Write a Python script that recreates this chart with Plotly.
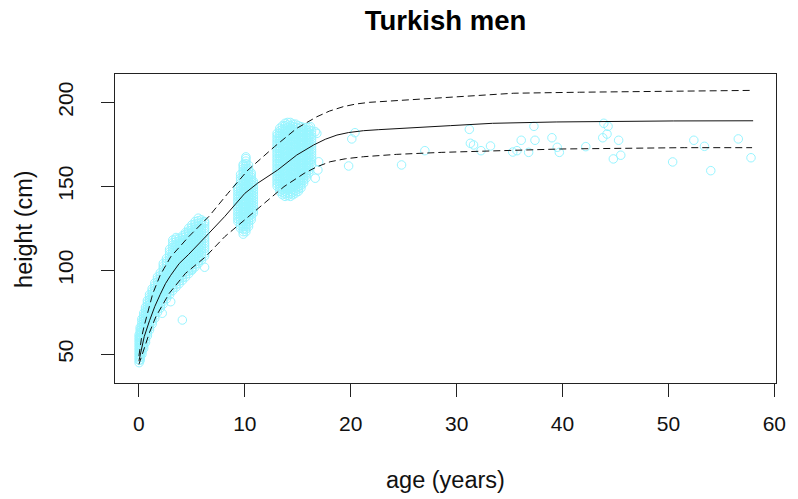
import plotly.graph_objects as go

# ---- observed heights, grouped by age (years) -> heights (cm) ----
young_cols = [
    (0.02, [45, 46.5, 48, 49.5, 51, 52.5, 54, 55.5, 57, 58.5, 60, 61.5]),
    (0.12, [46.5, 48, 49.5, 51, 52.5, 54, 55.5, 57, 58.5, 60, 61.5, 63, 64.5, 66]),
    (0.28, [50, 51.5, 53, 54.5, 56, 57.5, 59, 60.5, 62, 63.5, 65, 66.5, 68, 69.5, 71]),
    (0.45, [53.5, 55, 56.5, 58, 59.5, 61, 62.5, 64, 65.5, 67, 68.5, 70, 71.5, 73, 74.5]),
    (0.62, [57, 58.5, 60, 61.5, 63, 64.5, 66, 67.5, 69, 70.5, 72, 73.5, 75, 76.5, 78]),
    (0.8, [61, 62.5, 64, 65.5, 67, 68.5, 70, 71.5, 73, 74.5, 76, 77.5, 79, 80.5, 82]),
    (1.0, [64.5, 66, 67.5, 69, 70.5, 72, 73.5, 75, 76.5, 78, 79.5, 81, 82.5, 84, 85.5]),
    (1.25, [68, 69.5, 71, 72.5, 74, 75.5, 77, 78.5, 80, 81.5, 83, 84.5, 86, 87.5, 89]),
    (1.5, [71.5, 73, 74.5, 76, 77.5, 79, 80.5, 82, 83.5, 85, 86.5, 88, 89.5, 91, 92.5]),
    (1.75, [75, 76.5, 78, 79.5, 81, 82.5, 84, 85.5, 87, 88.5, 90, 91.5, 93, 94.5, 96]),
    (2.02, [77.5, 79, 80.5, 82, 83.5, 85, 86.5, 88, 89.5, 91, 92.5, 94, 95.5, 97, 98.5]),
    (2.3, [80, 81.5, 83, 84.5, 86, 87.5, 89, 90.5, 92, 93.5, 95, 96.5, 98, 99.5, 101, 102.5, 104]),
    (2.6, [83, 84.5, 86, 87.5, 89, 90.5, 92, 93.5, 95, 96.5, 98, 99.5, 101, 102.5, 104, 105.5, 107]),
    (2.9, [85.5, 87, 88.5, 90, 91.5, 93, 94.5, 96, 97.5, 99, 100.5, 102, 103.5, 105, 106.5,
           108, 109.5, 111, 112.5]),
    (3.2, [88, 89.5, 91, 92.5, 94, 95.5, 97, 98.5, 100, 101.5, 103, 104.5, 106, 107.5, 109,
           110.5, 112, 113.5, 115, 116.5, 118]),
    (3.5, [90, 91.5, 93, 94.5, 96, 97.5, 99, 100.5, 102, 103.5, 105, 106.5, 108, 109.5, 111,
           112.5, 114, 115.5, 117, 118.5, 119.5]),
    (3.8, [92, 93.5, 95, 96.5, 98, 99.5, 101, 102.5, 104, 105.5, 107, 108.5, 110, 111.5, 113,
           114.5, 116, 117.5, 119]),
    (4.1, [94, 95.5, 97, 98.5, 100, 101.5, 103, 104.5, 106, 107.5, 109, 110.5, 112, 113.5, 115,
           116.5, 118, 119.5, 120.5]),
    (4.4, [96, 97.5, 99, 100.5, 102, 103.5, 105, 106.5, 108, 109.5, 111, 112.5, 114, 115.5, 117,
           118.5, 120, 121.5, 122.5]),
    (4.7, [98, 99.5, 101, 102.5, 104, 105.5, 107, 108.5, 110, 111.5, 113, 114.5, 116, 117.5, 119,
           120.5, 122, 123.5, 125]),
    (5.0, [100, 101.5, 103, 104.5, 106, 107.5, 109, 110.5, 112, 113.5, 115, 116.5, 118, 119.5,
           121, 122.5, 124, 125.5, 127]),
    (5.3, [102, 103.5, 105, 106.5, 108, 109.5, 111, 112.5, 114, 115.5, 117, 118.5, 120, 121.5,
           123, 124.5, 126, 127.5, 129]),
    (5.6, [104, 105.5, 107, 108.5, 110, 111.5, 113, 114.5, 116, 117.5, 119, 120.5, 122, 123.5,
           125, 126.5, 128, 129.5, 131]),
    (5.9, [106, 107.5, 109, 110.5, 112, 113.5, 115, 116.5, 118, 119.5, 121, 122.5, 124, 125.5,
           127, 128.5, 130]),
    (6.2, [108.5, 110, 111.5, 113, 114.5, 116, 117.5, 119, 120.5, 122, 123.5, 125, 126.5, 128, 129]),
]

child_cols = [
    (9.35, [129, 130.5, 132, 133.5, 135, 136.5, 138, 139.5, 141, 142.5, 144, 145.5, 147, 148.5, 149.5]),
    (9.6, [125, 126.5, 128, 129.5, 131, 132.5, 134, 135.5, 137, 138.5, 140, 141.5, 143, 144.5, 146,
           147.5, 149, 150.5, 152, 153.5, 155, 157]),
    (9.85, [121.5, 123, 124.5, 126, 127.5, 129, 130.5, 132, 133.5, 135, 136.5, 138, 139.5, 141,
            142.5, 144, 145.5, 147, 148.5, 150, 151.5, 153, 154.5, 156, 157.5, 159, 160.5, 162, 163]),
    (10.1, [123, 124.5, 126, 127.5, 129, 130.5, 132, 133.5, 135, 136.5, 138, 139.5, 141, 142.5, 144,
            145.5, 147, 148.5, 150, 151.5, 153, 154.5, 156, 157.5, 159, 160.5, 162, 163.5, 165,
            166.5, 167.5]),
    (10.35, [126, 127.5, 129, 130.5, 132, 133.5, 135, 136.5, 138, 139.5, 141, 142.5, 144, 145.5,
             147, 148.5, 150, 151.5, 153, 154.5, 156, 157.5, 159, 160.5, 162.5]),
    (10.6, [130, 131.5, 133, 134.5, 136, 137.5, 139, 140.5, 142, 143.5, 145, 146.5, 148, 149.5,
            151, 152.5, 154, 155.5, 157, 158]),
    (10.8, [134, 135.5, 137, 138.5, 140, 141.5, 143, 144.5, 146, 147.5, 149, 150.5, 152, 153]),
]

teen_cols = [
    (13.05, [150, 151.5, 153, 154.5, 156, 157.5, 159, 160.5, 162, 163.5, 165, 166.5, 168, 169.5,
             171, 172.5, 174, 175.5, 177, 178.5, 180, 181.5]),
    (13.3, [147, 148.5, 150, 151.5, 153, 154.5, 156, 157.5, 159, 160.5, 162, 163.5, 165, 166.5,
            168, 169.5, 171, 172.5, 174, 175.5, 177, 178.5, 180, 181.5, 183, 184.5]),
    (13.55, [145, 146.5, 148, 149.5, 151, 152.5, 154, 155.5, 157, 158.5, 160, 161.5, 163, 164.5,
             166, 167.5, 169, 170.5, 172, 173.5, 175, 176.5, 178, 179.5, 181, 182.5, 184, 186]),
    (13.8, [144, 145.5, 147, 148.5, 150, 151.5, 153, 154.5, 156, 157.5, 159, 160.5, 162, 163.5,
            165, 166.5, 168, 169.5, 171, 172.5, 174, 175.5, 177, 178.5, 180, 181.5, 183, 184.5,
            186, 187.5]),
    (14.05, [144.5, 146, 147.5, 149, 150.5, 152, 153.5, 155, 156.5, 158, 159.5, 161, 162.5, 164,
             165.5, 167, 168.5, 170, 171.5, 173, 174.5, 176, 177.5, 179, 180.5, 182, 183.5, 185,
             186.5, 188]),
    (14.3, [144, 145.5, 147, 148.5, 150, 151.5, 153, 154.5, 156, 157.5, 159, 160.5, 162, 163.5,
            165, 166.5, 168, 169.5, 171, 172.5, 174, 175.5, 177, 178.5, 180, 181.5, 183, 184.5,
            186, 188]),
    (14.55, [145, 146.5, 148, 149.5, 151, 152.5, 154, 155.5, 157, 158.5, 160, 161.5, 163, 164.5,
             166, 167.5, 169, 170.5, 172, 173.5, 175, 176.5, 178, 179.5, 181, 182.5, 184, 185.5, 187]),
    (14.8, [146, 147.5, 149, 150.5, 152, 153.5, 155, 156.5, 158, 159.5, 161, 162.5, 164, 165.5,
            167, 168.5, 170, 171.5, 173, 174.5, 176, 177.5, 179, 180.5, 182, 183.5, 185, 187]),
    (15.05, [147, 148.5, 150, 151.5, 153, 154.5, 156, 157.5, 159, 160.5, 162, 163.5, 165, 166.5,
             168, 169.5, 171, 172.5, 174, 175.5, 177, 178.5, 180, 181.5, 183, 184.5, 186]),
    (15.3, [149, 150.5, 152, 153.5, 155, 156.5, 158, 159.5, 161, 162.5, 164, 165.5, 167, 168.5,
            170, 171.5, 173, 174.5, 176, 177.5, 179, 180.5, 182, 183.5, 185.5]),
    (15.55, [152, 153.5, 155, 156.5, 158, 159.5, 161, 162.5, 164, 165.5, 167, 168.5, 170, 171.5,
             173, 174.5, 176, 177.5, 179, 180.5, 182, 183.5, 185]),
    (15.8, [155, 156.5, 158, 159.5, 161, 162.5, 164, 165.5, 167, 168.5, 170, 171.5, 173, 174.5,
            176, 177.5, 179, 180.5, 182, 183.5, 185]),
    (16.05, [158, 159.5, 161, 162.5, 164, 165.5, 167, 168.5, 170, 171.5, 173, 174.5, 176, 177.5,
             179, 180.5, 182, 183.5, 185]),
    (16.3, [163, 164.5, 166, 167.5, 169, 170.5, 172, 173.5, 175, 176.5, 178, 179.5, 181, 183]),
]

# isolated observations
loose_age = [2.2, 3.0, 4.1, 5.0, 6.2, 16.2, 16.65, 16.8, 16.97, 16.65, 16.9,
             19.8, 20.1, 20.4, 24.8, 27.0, 31.2, 31.3, 31.6, 32.3, 33.2, 35.3,
             35.7, 36.1, 36.8, 37.3, 37.4, 39.0, 39.5, 39.7, 42.2, 43.8, 43.9,
             44.2, 44.3, 45.3, 44.8, 45.5, 50.4, 52.4, 53.4, 54.0, 56.6, 57.8]
loose_height = [74.4, 81.3, 70.4, 100.6, 101.8, 185.5, 182.5, 181.5, 164.6, 154.8, 159.7,
                162.1, 178.2, 181.9, 162.7, 171.2, 183.9, 175.6, 174.6, 171.2, 174.0, 170.4,
                171.2, 177.4, 170.2, 185.7, 177.4, 178.9, 173.2, 170.2, 173.6, 178.9, 187.5,
                181.1, 185.7, 177.4, 166.3, 168.5, 164.5, 177.4, 173.8, 159.3, 178.2, 167.0]

# ---- fitted centile curves ----
med_age = [0.0, 0.25, 0.5, 1.0, 1.5, 2.0, 2.5, 3.0, 3.8, 4.7, 5.5, 6.6, 8.1, 10.0,
           11.2, 13.1, 14.9, 16.5, 17.6, 18.7, 19.8, 21.2, 22.6, 24.3, 26.4, 29.4,
           33.4, 39.4, 50.5, 58.0]
med_height = [46, 54, 60.5, 70, 78.5, 85.5, 92, 97, 104, 109.5, 115, 122, 132, 145.8,
              151.8, 159.7, 168.6, 174.6, 178.0, 180.5, 182.0, 183.1, 183.7, 184.2, 184.9,
              186.1, 187.5, 188.3, 188.9, 189.0]

upr_age = [0.0, 0.25, 0.5, 1.0, 1.3, 2.0, 3.0, 4.7, 6.6, 8.4, 10.3, 12.8, 14.9, 16.8,
           18.0, 19.3, 20.5, 21.8, 24.3, 26.5, 31.1, 35.4, 41.6, 53.4, 58.0]
upr_height = [49, 60, 67, 79, 86, 97, 108, 120, 132, 145.8, 159.7, 173.6, 184.5, 191.4,
              194.8, 197.4, 199.0, 200, 201, 202, 203.9, 205.4, 206, 206.7, 207.1]

lwr_age = [0.0, 0.53, 1.0, 1.6, 2.86, 4.4, 6.3, 8.1, 10.0, 11.85, 13.7, 15.6, 16.8,
           18.05, 19.5, 21.2, 24.3, 28.6, 35.4, 39.8, 51.5, 57.9]
lwr_height = [44, 54.5, 63, 72.4, 86.3, 98.2, 108.1, 120, 130, 139.9, 149.8, 157.7, 161.6,
              164.6, 166.4, 167.6, 169, 170.2, 171.4, 172.2, 173, 173]

x_ticks = [0, 10, 20, 30, 40, 50, 60]
y_ticks = [50, 100, 150, 200]

obs_x, obs_y = [], []
for cols in (young_cols, child_cols, teen_cols):
    for a, hs in cols:
        obs_x.extend([a] * len(hs))
        obs_y.extend(hs)
obs_x.extend(loose_age)
obs_y.extend(loose_height)

FONT = "Liberation Sans, Arial, sans-serif"
PT_COL = "#98F5FF"
DASH = "7px,4px"

fig = go.Figure()
fig.add_trace(go.Scatter(
    x=obs_x, y=obs_y, mode="markers",
    marker=dict(symbol="circle-open", size=8.5, color=PT_COL, line=dict(width=1, color=PT_COL)),
    showlegend=False, hoverinfo="skip"))

for xs, ys, dash in ((lwr_age, lwr_height, DASH),
                     (med_age, med_height, "solid"),
                     (upr_age, upr_height, DASH)):
    fig.add_trace(go.Scatter(x=xs, y=ys, mode="lines",
                             line=dict(color="#111111", width=1, dash=dash),
                             showlegend=False, hoverinfo="skip"))

axis_common = dict(showgrid=False, zeroline=False, showline=True, mirror=True,
                   linecolor="#222222", linewidth=1, ticks="outside", ticklen=13,
                   tickwidth=1, tickcolor="#222222",
                   tickfont=dict(family=FONT, size=21, color="#111111"))

fig.update_xaxes(range=[-2.26, 60.16], tickvals=x_ticks, ticklabelstandoff=9, **axis_common)
fig.update_yaxes(range=[32.9, 216.85], tickvals=y_ticks, tickangle=-90,
                 ticklabelstandoff=20, **axis_common)

fig.update_layout(
    width=798, height=499,
    margin=dict(l=115, r=12, t=74, b=116),
    plot_bgcolor="white", paper_bgcolor="white",
    title=dict(text="<b>Turkish men</b>", x=0.5, xref="paper", xanchor="center",
               y=1 - 20 / 499, yref="container", yanchor="middle",
               font=dict(family=FONT, size=27.5, color="#000000")),
    annotations=[
        dict(text="age (years)", xref="paper", yref="paper", x=0.5, y=-(480 - 383) / 309,
             xanchor="center", yanchor="middle", showarrow=False,
             font=dict(family=FONT, size=23.5, color="#111111")),
        dict(text="height (cm)", xref="paper", yref="paper", x=(22 - 115) / 671, y=0.5,
             xanchor="center", yanchor="middle", textangle=-90, showarrow=False,
             font=dict(family=FONT, size=23.5, color="#111111")),
    ],
)

fig.write_html("out.html")
